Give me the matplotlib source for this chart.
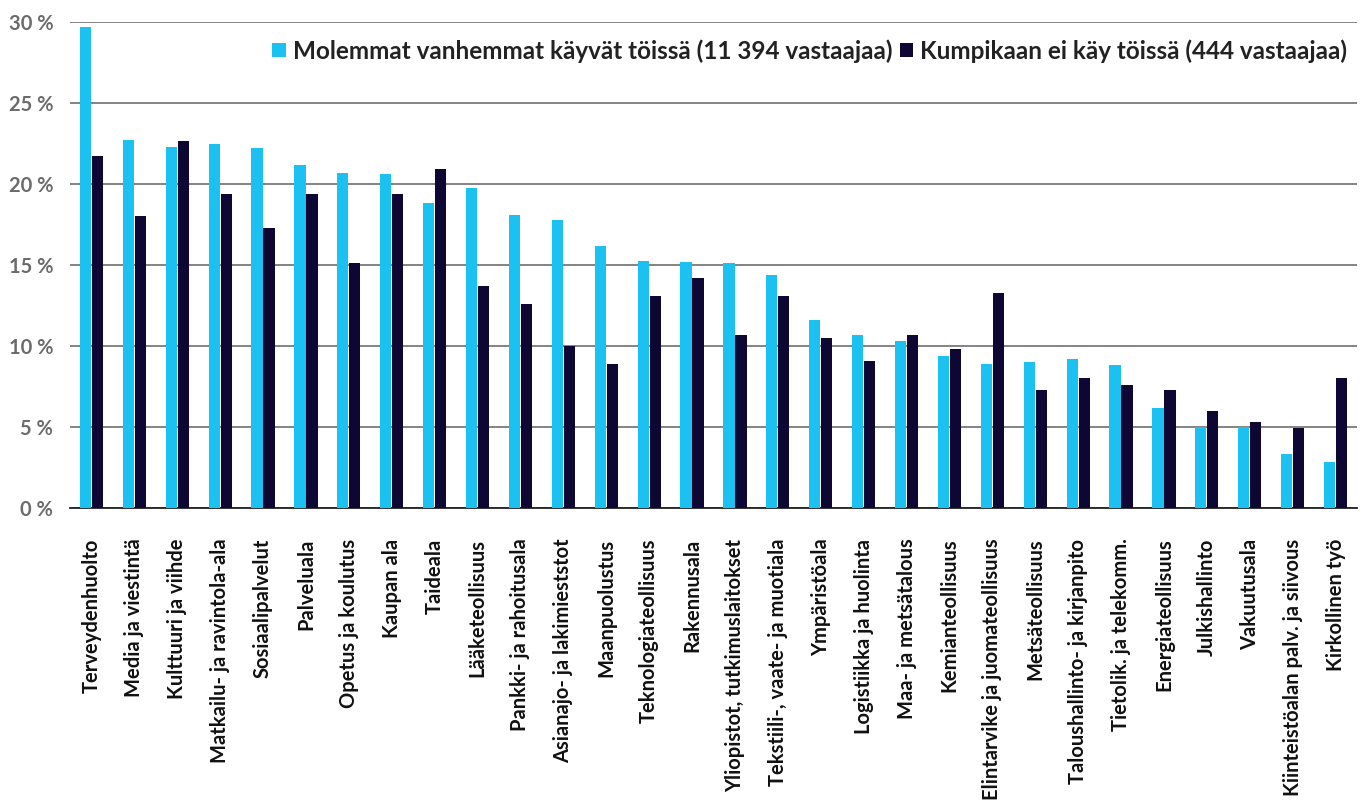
import matplotlib
matplotlib.use("Agg")
import matplotlib.pyplot as plt
import numpy as np
from matplotlib.ticker import FuncFormatter

categories = [
    "Terveydenhuolto", "Media ja viestintä", "Kulttuuri ja viihde",
    "Matkailu- ja ravintola-ala", "Sosiaalipalvelut", "Palveluala",
    "Opetus ja koulutus", "Kaupan ala", "Taideala", "Lääketeollisuus",
    "Pankki- ja rahoitusala", "Asianajo- ja lakimiestStot".replace("St", "st"),
    "Maanpuolustus", "Teknologiateollisuus", "Rakennusala",
    "Yliopistot, tutkimuslaitokset", "Tekstiili-, vaate- ja muotiala",
    "Ympäristöala", "Logistiikka ja huolinta", "Maa- ja metsätalous",
    "Kemianteollisuus", "Elintarvike ja juomateollisuus", "Metsäteollisuus",
    "Taloushallinto- ja kirjanpito", "Tietolik. ja telekomm.",
    "Energiateollisuus", "Julkishallinto", "Vakuutusala",
    "Kiinteistöalan palv. ja siivous", "Kirkollinen työ",
]
both_working = [29.7, 22.7, 22.3, 22.5, 22.2, 21.2, 20.7, 20.6, 18.8, 19.75,
                18.1, 17.8, 16.2, 15.25, 15.2, 15.1, 14.4, 11.6, 10.7, 10.3,
                9.4, 8.9, 9.0, 9.2, 8.8, 6.2, 5.0, 5.0, 3.35, 2.85]
neither_working = [21.7, 18.0, 22.65, 19.4, 17.3, 19.4, 15.1, 19.4, 20.9, 13.7,
                   12.6, 10.0, 8.9, 13.1, 14.2, 10.7, 13.1, 10.5, 9.1, 10.7,
                   9.8, 13.3, 7.3, 8.0, 7.6, 7.3, 6.0, 5.3, 4.95, 8.0]
series_labels = ["Molemmat vanhemmat käyvät töissä (11 394 vastaajaa)",
                 "Kumpikaan ei käy töissä (444 vastaajaa)"]
yticks = [0, 5, 10, 15, 20, 25, 30]

light = "#1BC1F0"
dark = "#0E0733"
font = ["Lato", "DejaVu Sans"]
plt.rcParams["font.family"] = font

fig = plt.figure(figsize=(13.7, 8.09), dpi=100)
ax = fig.add_axes([70 / 1370, 1 - 508 / 809, (1357 - 70) / 1370, (508 - 22) / 809])

x = np.arange(len(categories))
w = 0.26
ax.bar(x - w / 2 - 0.01, both_working, width=w, color=light, label=series_labels[0], zorder=3)
ax.bar(x + w / 2 + 0.01, neither_working, width=w, color=dark, label=series_labels[1], zorder=3)

ax.set_xlim(-0.5, len(categories) - 0.5)
ax.set_ylim(0, 30)
ax.set_yticks(yticks)
ax.yaxis.set_major_formatter(FuncFormatter(lambda v, p: f"{int(v)} %"))
ax.grid(axis="y", color="#7a7a7a", linewidth=1.3, zorder=0)
ax.set_axisbelow(True)
for s in ["top", "right", "left"]:
    ax.spines[s].set_visible(False)
ax.spines["bottom"].set_color("#222222")
ax.spines["bottom"].set_linewidth(1.3)
ax.tick_params(axis="y", length=0, pad=12, labelsize=14.5, labelcolor="#6b6b6b")
ax.tick_params(axis="x", length=0, pad=22, labelsize=14.5, labelcolor="#111111")
for lbl in ax.get_yticklabels():
    lbl.set_fontweight("bold")
ax.set_xticks(x)
ax.set_xticklabels(categories, rotation=90, fontweight="bold")

leg = ax.legend(loc="upper right", bbox_to_anchor=(1.0, 0.985), ncol=2, frameon=False,
                handlelength=0.55, handleheight=0.55, handletextpad=0.3,
                columnspacing=0.3, borderaxespad=0.0,
                prop={"family": font, "weight": "bold", "size": 17.5})
for t in leg.get_texts():
    t.set_color("#222222")

fig.savefig("out.png", dpi=100, facecolor="white")
